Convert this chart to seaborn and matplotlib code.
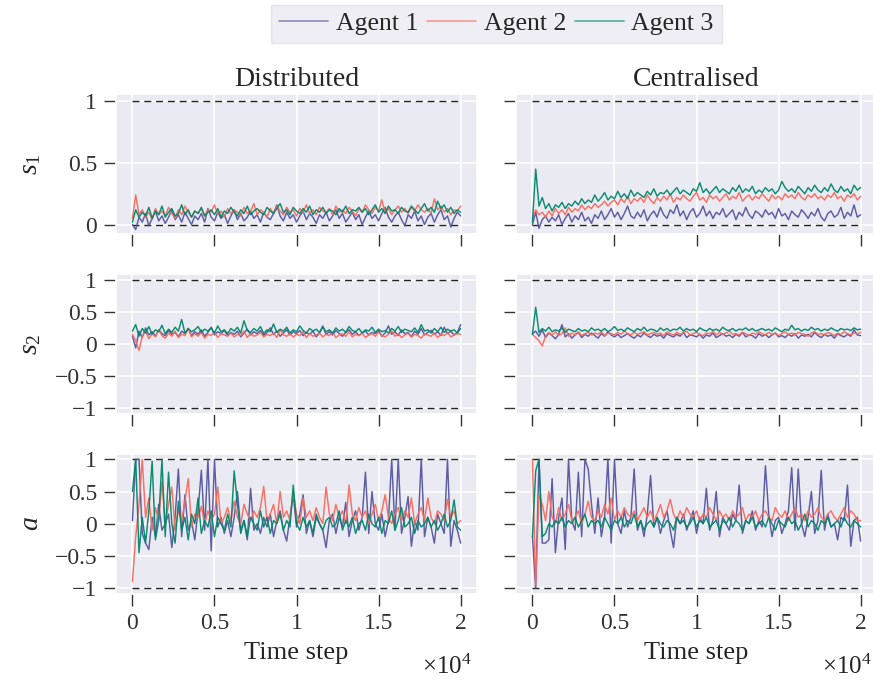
import numpy as np
import pandas as pd
import matplotlib
matplotlib.use("Agg")
import matplotlib.pyplot as plt
import seaborn as sns
from matplotlib.lines import Line2D
from matplotlib.ticker import FuncFormatter

# ---------------- data ----------------
agents = ["Agent 1", "Agent 2", "Agent 3"]
colors = ["#55559f", "#fa6a5c", "#00876a"]
columns = ["Distributed", "Centralised"]
row_labels = [r"$s_1$", r"$s_2$", r"$a$"]
time_steps = np.arange(0, 20001, 200)
bounds = [[0, 1], [-1, 1], [-1, 1]]
row_yticks = [[0, 0.5, 1], [-1, -0.5, 0, 0.5, 1], [-1, -0.5, 0, 0.5, 1]]
row_ylims = [(-0.08, 1.06), (-1.09, 1.09), (-1.09, 1.09)]
xticks = [0, 5000, 10000, 15000, 20000]

s1_dist_a1 = [0.00,-0.04,0.06,0.02,0.09,-0.01,0.05,0.11,0.03,0.07,
              0.01,0.06,0.12,0.04,0.08,0.02,0.10,0.05,0.00,0.07,
              0.04,0.09,0.02,0.13,0.06,0.03,0.10,0.05,0.08,0.01,
              0.07,0.12,0.04,0.09,0.03,0.06,0.11,0.05,0.08,0.02,
              0.10,0.06,0.04,0.09,0.16,0.07,0.03,0.10,0.05,0.08,
              0.02,0.07,0.11,0.04,0.09,0.06,0.01,0.08,0.05,0.10,
              0.03,0.07,0.12,0.05,0.09,0.02,0.06,0.10,0.04,0.08,
              0.00,0.06,0.11,0.05,0.08,0.03,0.09,0.14,0.06,0.02,
              0.07,0.10,0.04,-0.01,0.08,0.05,0.11,0.03,0.07,0.00,
              0.06,0.09,0.02,0.08,0.12,0.04,0.07,-0.02,0.05,0.10,
              0.07]
s1_dist_a2 = [0.05,0.24,0.08,0.12,0.06,0.10,0.04,0.13,0.08,0.11,
              0.07,0.14,0.09,0.05,0.12,0.08,0.15,0.10,0.06,0.11,
              0.09,0.13,0.07,0.12,0.10,0.16,0.08,0.11,0.06,0.13,
              0.09,0.12,0.10,0.07,0.14,0.09,0.11,0.17,0.08,0.12,
              0.10,0.06,0.13,0.09,0.15,0.11,0.08,0.14,0.10,0.12,
              0.07,0.13,0.10,0.16,0.09,0.12,0.08,0.14,0.11,0.10,
              0.13,0.08,0.15,0.10,0.12,0.09,0.14,0.11,0.07,0.13,
              0.10,0.16,0.12,0.09,0.14,0.11,0.20,0.10,0.13,0.08,
              0.12,0.15,0.10,0.13,0.09,0.14,0.11,0.16,0.12,0.10,
              0.13,0.09,0.21,0.12,0.15,0.10,0.13,0.08,0.12,0.11,
              0.15]
s1_dist_a3 = [0.02,0.12,0.06,0.10,0.07,0.14,0.05,0.11,0.08,0.15,
              0.06,0.10,0.13,0.07,0.09,0.16,0.08,0.12,0.06,0.11,
              0.09,0.14,0.07,0.10,0.12,0.08,0.13,0.06,0.11,0.09,
              0.14,0.10,0.07,0.12,0.09,0.15,0.08,0.11,0.13,0.10,
              0.08,0.14,0.11,0.09,0.13,0.17,0.10,0.12,0.08,0.14,
              0.11,0.09,0.13,0.10,0.15,0.08,0.12,0.10,0.14,0.09,
              0.12,0.11,0.08,0.13,0.10,0.15,0.09,0.12,0.11,0.14,
              0.10,0.13,0.08,0.12,0.16,0.10,0.13,0.09,0.15,0.11,
              0.12,0.09,0.14,0.11,0.10,0.15,0.12,0.09,0.13,0.17,
              0.11,0.14,0.10,0.19,0.13,0.16,0.10,0.14,0.09,0.12,
              0.10]

s1_cent_a1 = [0.00,0.10,-0.03,0.04,0.07,0.02,0.06,0.03,0.08,0.00,
              0.05,0.09,0.02,0.07,0.04,0.10,0.03,0.06,0.01,0.08,
              0.05,0.11,0.04,0.08,0.13,0.06,0.10,0.04,0.09,0.15,
              0.07,0.05,0.10,0.06,0.12,0.03,0.08,0.11,0.06,0.14,
              0.08,0.05,0.12,0.09,0.16,0.07,0.11,0.04,0.10,0.13,
              0.06,0.09,0.15,0.07,0.11,0.05,0.10,0.08,0.13,0.06,
              0.09,0.12,0.04,0.10,0.07,0.14,0.08,0.05,0.11,0.09,
              0.06,0.12,0.08,0.10,0.05,0.13,0.07,0.09,0.04,0.11,
              0.08,0.06,0.12,0.09,0.05,0.10,0.07,0.13,0.06,0.03,
              0.09,0.11,0.06,0.08,0.14,0.05,0.10,0.07,0.16,0.06,
              0.08]
s1_cent_a2 = [0.05,0.12,0.08,0.10,0.06,0.11,0.07,0.13,0.09,0.12,
              0.08,0.14,0.10,0.13,0.11,0.16,0.12,0.15,0.13,0.17,
              0.14,0.16,0.19,0.15,0.18,0.20,0.16,0.21,0.18,0.23,
              0.17,0.21,0.19,0.22,0.18,0.24,0.20,0.17,0.22,0.19,
              0.23,0.20,0.25,0.18,0.22,0.20,0.24,0.21,0.19,0.23,
              0.26,0.20,0.22,0.18,0.24,0.21,0.23,0.19,0.22,0.25,
              0.20,0.23,0.21,0.26,0.19,0.22,0.24,0.20,0.23,0.21,
              0.25,0.22,0.19,0.24,0.21,0.23,0.20,0.25,0.22,0.24,
              0.21,0.26,0.22,0.20,0.24,0.22,0.25,0.21,0.23,0.20,
              0.24,0.22,0.26,0.21,0.23,0.19,0.24,0.22,0.25,0.20,
              0.23]
s1_cent_a3 = [0.02,0.45,0.15,0.22,0.13,0.17,0.11,0.16,0.14,0.18,
              0.13,0.17,0.15,0.19,0.16,0.21,0.17,0.20,0.18,0.24,
              0.19,0.22,0.26,0.20,0.23,0.21,0.27,0.22,0.25,0.21,
              0.28,0.23,0.26,0.24,0.22,0.27,0.24,0.29,0.23,0.26,
              0.25,0.28,0.24,0.27,0.30,0.25,0.28,0.26,0.24,0.29,
              0.27,0.34,0.26,0.29,0.25,0.28,0.31,0.26,0.29,0.27,
              0.25,0.30,0.27,0.32,0.26,0.29,0.27,0.31,0.25,0.28,
              0.26,0.30,0.27,0.29,0.25,0.28,0.35,0.30,0.27,0.29,
              0.26,0.31,0.28,0.25,0.30,0.27,0.32,0.28,0.26,0.30,
              0.27,0.33,0.28,0.26,0.31,0.27,0.29,0.25,0.32,0.28,
              0.30]

s2_dist_a1 = [0.12,-0.06,0.20,0.10,0.25,0.14,0.19,0.12,0.22,0.16,
              0.13,0.21,0.15,0.18,0.11,0.20,0.16,0.24,0.13,0.19,
              0.15,0.22,0.12,0.18,0.26,0.14,0.19,0.16,0.21,0.13,
              0.18,0.15,0.20,0.11,0.17,0.23,0.14,0.19,0.16,0.21,
              0.13,0.18,0.25,0.15,0.20,0.12,0.17,0.22,0.14,0.19,
              0.16,0.21,0.13,0.18,0.15,0.20,0.11,0.17,0.28,0.15,
              0.19,0.14,0.21,0.16,0.12,0.18,0.22,0.15,0.19,0.13,
              0.17,0.20,0.14,0.18,0.16,0.21,0.12,0.17,0.28,0.15,
              0.19,0.13,0.22,0.16,0.18,0.11,0.20,0.15,0.24,0.14,
              0.18,0.21,0.15,0.19,0.13,0.26,0.16,0.20,0.14,0.18,
              0.30]
s2_dist_a2 = [0.15,0.05,-0.10,0.12,0.20,0.08,0.16,0.11,0.22,0.13,
              0.09,0.17,0.12,0.20,0.10,0.15,0.13,0.24,0.11,0.16,
              0.12,0.18,0.09,0.15,0.13,0.19,0.10,0.16,0.14,0.12,
              0.17,0.11,0.15,0.13,0.20,0.10,0.16,0.12,0.14,0.18,
              0.11,0.15,0.13,0.17,0.10,0.22,0.14,0.12,0.16,0.11,
              0.15,0.13,0.19,0.10,0.16,0.12,0.14,0.17,0.11,0.15,
              0.13,0.18,0.10,0.14,0.16,0.12,0.19,0.11,0.15,0.13,
              0.17,0.10,0.14,0.16,0.12,0.18,0.13,0.11,0.15,0.20,
              0.12,0.16,0.10,0.14,0.17,0.11,0.15,0.13,0.09,0.16,
              0.14,0.12,0.17,0.10,0.15,0.13,0.18,0.11,0.14,0.16,
              0.15]
s2_dist_a3 = [0.20,0.30,0.12,0.24,0.17,0.27,0.15,0.22,0.19,0.29,
              0.16,0.23,0.18,0.26,0.20,0.38,0.17,0.24,0.19,0.22,
              0.27,0.18,0.23,0.20,0.25,0.17,0.28,0.19,0.22,0.16,
              0.24,0.20,0.26,0.17,0.36,0.21,0.18,0.24,0.20,0.27,
              0.16,0.22,0.19,0.31,0.18,0.23,0.20,0.26,0.17,0.22,
              0.19,0.28,0.21,0.17,0.24,0.20,0.23,0.18,0.26,0.19,
              0.22,0.17,0.25,0.20,0.23,0.18,0.27,0.21,0.19,0.24,
              0.17,0.22,0.20,0.26,0.18,0.23,0.19,0.21,0.17,0.24,
              0.20,0.27,0.18,0.23,0.21,0.19,0.25,0.18,0.30,0.20,
              0.22,0.17,0.24,0.19,0.26,0.18,0.23,0.20,0.22,0.17,
              0.24]

s2_cent_a1 = [0.16,0.20,0.12,0.22,0.10,0.17,0.13,0.08,0.15,0.30,
              0.11,0.16,0.09,0.14,0.18,0.10,0.15,0.12,0.17,0.13,
              0.09,0.16,0.12,0.19,0.14,0.11,0.15,0.10,0.13,0.16,
              0.12,0.09,0.14,0.11,0.17,0.13,0.10,0.15,0.12,0.14,
              0.09,0.16,0.13,0.11,0.15,0.12,0.18,0.10,0.14,0.13,
              0.11,0.15,0.09,0.14,0.12,0.17,0.10,0.13,0.16,0.12,
              0.14,0.10,0.15,0.12,0.18,0.11,0.14,0.13,0.09,0.16,
              0.12,0.15,0.10,0.14,0.17,0.11,0.13,0.10,0.15,0.12,
              0.16,0.09,0.14,0.12,0.15,0.11,0.18,0.13,0.10,0.15,
              0.12,0.14,0.09,0.16,0.13,0.11,0.15,0.12,0.22,0.14,
              0.13]
s2_cent_a2 = [0.15,0.10,0.05,-0.03,0.12,0.18,0.14,0.19,0.13,0.16,
              0.25,0.12,0.17,0.14,0.19,0.13,0.16,0.18,0.14,0.17,
              0.15,0.19,0.13,0.17,0.16,0.14,0.18,0.15,0.20,0.16,
              0.14,0.18,0.15,0.17,0.19,0.14,0.16,0.18,0.15,0.17,
              0.13,0.19,0.16,0.14,0.18,0.15,0.17,0.20,0.14,0.16,
              0.18,0.15,0.13,0.17,0.16,0.19,0.14,0.18,0.15,0.17,
              0.20,0.15,0.16,0.14,0.18,0.16,0.13,0.17,0.15,0.19,
              0.16,0.14,0.18,0.15,0.17,0.13,0.16,0.19,0.15,0.17,
              0.14,0.18,0.16,0.15,0.12,0.17,0.19,0.15,0.16,0.14,
              0.18,0.16,0.13,0.17,0.15,0.19,0.16,0.14,0.17,0.16,
              0.18]
s2_cent_a3 = [0.15,0.57,0.18,0.24,0.20,0.26,0.19,0.22,0.20,0.25,
              0.18,0.23,0.21,0.19,0.24,0.20,0.22,0.19,0.25,0.21,
              0.23,0.20,0.24,0.19,0.22,0.27,0.21,0.23,0.20,0.25,
              0.22,0.19,0.24,0.21,0.26,0.20,0.23,0.22,0.19,0.25,
              0.21,0.24,0.20,0.23,0.22,0.26,0.20,0.24,0.21,0.23,
              0.19,0.25,0.22,0.20,0.24,0.21,0.23,0.20,0.26,0.22,
              0.21,0.24,0.20,0.23,0.22,0.25,0.21,0.24,0.20,0.22,
              0.24,0.21,0.23,0.20,0.25,0.22,0.19,0.23,0.21,0.29,
              0.22,0.24,0.20,0.23,0.21,0.26,0.22,0.24,0.20,0.23,
              0.21,0.25,0.22,0.20,0.24,0.22,0.23,0.21,0.25,0.22,
              0.23]

a_dist_a1 = [0.05,1.00,1.00,-0.15,-0.30,-0.40,0.10,-0.20,0.30,-0.10,
             0.00,0.15,-0.37,0.10,0.85,-0.20,0.45,-0.10,0.05,-0.25,
             0.20,0.83,-0.10,1.00,-0.42,1.00,-0.05,0.10,-0.15,0.05,
             -0.20,0.10,0.50,-0.10,0.05,-0.25,0.55,-0.10,0.00,-0.15,
             0.10,-0.05,0.15,-0.20,0.05,0.20,-0.10,-0.27,0.10,0.45,
             -0.05,0.15,0.45,-0.15,0.05,-0.20,0.10,0.00,-0.10,-0.37,
             0.05,0.15,-0.15,0.10,-0.05,0.33,-0.20,0.05,0.20,-0.10,
             0.10,0.80,-0.15,0.50,0.00,-0.10,0.15,-0.20,0.05,1.00,
             -0.10,1.00,-0.15,0.10,0.42,-0.35,0.05,-0.10,1.00,-0.20,
             0.10,-0.05,-0.30,0.15,0.00,-0.15,1.00,-0.35,0.05,-0.10,
             -0.30]
a_dist_a2 = [-0.90,-0.20,0.30,1.00,0.10,0.40,-0.10,0.25,0.05,0.65,
             0.00,0.30,0.57,-0.10,0.20,0.05,0.35,0.70,-0.05,0.15,
             0.10,0.27,0.00,0.20,0.05,0.15,0.57,0.00,0.10,0.25,
             0.05,0.35,0.10,0.00,0.30,0.15,0.05,0.20,0.10,0.25,
             0.58,0.05,0.15,0.30,0.00,0.50,0.10,0.20,0.05,0.50,
             0.15,0.00,0.40,0.10,0.20,0.05,0.25,0.10,0.00,0.57,
             0.15,0.05,0.30,0.10,0.20,0.00,0.60,0.15,0.05,0.25,
             0.10,0.20,0.00,0.15,0.30,0.05,0.20,0.45,0.10,0.00,
             0.15,0.25,0.05,0.20,0.10,0.40,0.00,0.15,0.25,0.05,
             0.40,0.10,0.00,0.20,0.15,0.05,0.38,0.10,0.20,0.00,
             0.05]
a_dist_a3 = [0.50,1.00,-0.45,0.10,-0.30,0.20,0.97,-0.25,0.05,1.00,
             -0.20,0.80,0.00,-0.30,0.35,-0.10,0.10,-0.25,0.15,0.00,
             0.40,-0.15,0.05,-0.05,0.20,-0.20,0.10,0.00,-0.10,0.15,
             -0.05,0.82,0.30,-0.15,0.05,-0.20,0.10,0.00,-0.10,0.20,
             -0.05,0.10,-0.15,0.05,0.00,0.15,-0.10,0.05,-0.05,0.60,
             0.00,-0.10,0.10,-0.05,0.05,-0.15,0.15,0.00,-0.10,0.05,
             0.10,-0.05,0.00,0.20,-0.10,0.05,-0.05,0.10,-0.15,0.00,
             0.05,-0.10,0.15,0.00,-0.05,0.10,-0.15,0.05,0.00,0.20,
             -0.10,0.05,0.25,-0.05,0.00,0.10,-0.15,0.05,-0.05,0.00,
             0.10,-0.05,0.05,-0.10,0.00,0.15,-0.05,0.05,0.37,-0.05,
             -0.10]

a_cent_a1 = [-0.20,-1.00,1.00,-0.30,-0.30,-0.25,0.70,-0.45,0.10,0.40,
             -0.40,1.00,0.05,-0.10,0.80,-0.20,1.00,0.85,0.30,-0.15,
             0.40,-0.20,0.10,1.00,-0.30,1.00,0.00,-0.15,0.20,-0.05,
             0.10,0.85,-0.10,0.05,-0.20,0.15,0.75,-0.05,0.10,-0.15,
             0.05,0.20,-0.10,-0.37,0.10,0.00,0.15,-0.10,0.05,0.20,
             -0.15,0.10,0.00,0.55,-0.10,0.05,0.50,-0.20,0.10,0.00,
             -0.10,0.15,0.05,0.60,-0.15,0.05,0.00,0.20,-0.10,0.05,
             -0.05,0.90,0.15,-0.20,0.05,0.10,-0.15,0.00,0.20,0.87,
             -0.10,0.85,0.00,-0.20,0.10,0.50,-0.15,0.05,0.83,-0.10,
             0.15,-0.05,0.00,-0.25,0.10,0.05,0.60,-0.35,0.05,0.10,
             -0.27]
a_cent_a2 = [1.00,-0.95,0.45,0.30,0.05,0.50,0.10,0.00,0.25,0.05,
             0.15,0.30,0.05,0.10,0.20,0.00,0.15,0.35,0.10,0.05,
             0.20,0.10,0.30,0.15,0.40,0.05,0.20,0.10,0.25,0.15,
             0.10,0.20,0.05,0.15,0.25,0.10,0.20,0.05,0.15,0.30,
             0.10,0.20,0.38,0.15,0.05,0.20,0.10,0.25,0.15,0.10,
             0.20,0.05,0.15,0.10,0.25,0.15,0.05,0.20,0.10,0.15,
             0.05,0.20,0.10,0.15,0.25,0.05,0.15,0.10,0.20,0.05,
             0.15,0.20,0.10,0.05,0.25,0.15,0.10,0.20,0.05,0.15,
             0.25,0.10,0.15,0.05,0.20,0.10,0.15,0.25,0.10,0.05,
             0.15,0.20,0.10,0.05,0.15,0.25,0.10,0.20,0.15,0.05,
             0.05]
a_cent_a3 = [-0.20,0.82,1.00,-0.20,-0.15,0.00,-0.05,0.05,0.00,0.10,
             -0.05,0.05,0.00,0.10,-0.05,0.05,0.15,-0.05,0.05,0.00,
             0.05,-0.05,0.10,0.00,-0.10,0.05,0.00,0.10,-0.05,0.05,
             0.00,0.15,-0.05,0.05,-0.10,0.00,0.05,-0.05,0.10,0.00,
             -0.05,0.05,0.00,-0.10,0.10,0.00,0.05,-0.05,0.00,0.10,
             -0.05,0.05,0.00,0.10,-0.05,0.00,0.05,-0.10,0.05,0.00,
             0.10,-0.05,0.05,0.00,-0.10,0.05,0.00,0.10,-0.05,0.00,
             0.05,-0.05,0.10,0.00,-0.10,0.05,0.00,-0.05,0.10,0.00,
             0.05,-0.10,0.00,0.15,-0.05,0.05,0.00,-0.10,0.05,0.00,
             0.10,-0.05,0.00,0.05,-0.05,0.10,0.00,-0.05,0.05,0.00,
             -0.05]

panels = [
    [[s1_dist_a1, s1_dist_a2, s1_dist_a3], [s1_cent_a1, s1_cent_a2, s1_cent_a3]],
    [[s2_dist_a1, s2_dist_a2, s2_dist_a3], [s2_cent_a1, s2_cent_a2, s2_cent_a3]],
    [[a_dist_a1, a_dist_a2, a_dist_a3], [a_cent_a1, a_cent_a2, a_cent_a3]],
]

# ---------------- style ----------------
sns.set_theme(style="darkgrid", rc={
    "xtick.bottom": True, "ytick.left": True,
    "xtick.major.size": 8.5, "ytick.major.size": 8.5,
    "xtick.major.width": 1.0, "ytick.major.width": 1.0,
    "xtick.color": "#333333", "ytick.color": "#333333",
    "xtick.major.pad": 5, "ytick.major.pad": 5,
    "grid.linewidth": 1.1,
})
plt.rcParams["font.family"] = ["Liberation Serif", "DejaVu Serif"]
plt.rcParams["mathtext.fontset"] = "custom"
plt.rcParams["mathtext.rm"] = "Liberation Serif"
plt.rcParams["mathtext.it"] = "Liberation Serif:italic"
plt.rcParams["axes.unicode_minus"] = True

TICK_FS = 17
fig, axes = plt.subplots(
    3, 2, figsize=(8.73, 6.81), dpi=100, sharex=True, sharey="row",
    gridspec_kw=dict(left=0.1329, right=1.0046, top=0.862, bottom=0.1278,
                     wspace=0.108, hspace=0.28))

def fmt(v, _pos):
    s = "%g" % v
    return s.replace("-", "\u2212")

palette = dict(zip(agents, colors))
for r in range(3):
    for c in range(2):
        ax = axes[r, c]
        series = panels[r][c]
        df = pd.concat([
            pd.DataFrame({"t": time_steps, "value": vals, "agent": name})
            for name, vals in zip(agents, series)
        ], ignore_index=True)
        sns.lineplot(data=df, x="t", y="value", hue="agent", palette=palette,
                     ax=ax, legend=False, linewidth=1.05, alpha=0.95,
                     errorbar=None, estimator=None)
        ax.hlines(bounds[r], time_steps[0], time_steps[-1], colors="#222222",
                  linestyles=(0, (5, 3.5)), linewidth=1.0, zorder=1.5)
        ax.set_ylim(*row_ylims[r])
        ax.set_xlim(-1000, 21000)
        ax.set_yticks(row_yticks[r])
        ax.set_xticks(xticks)
        ax.yaxis.set_major_formatter(FuncFormatter(fmt))
        ax.xaxis.set_major_formatter(FuncFormatter(lambda v, p: fmt(v / 1e4, p)))
        ax.tick_params(labelsize=TICK_FS)
        ax.set_xlabel("")
        ax.set_ylabel("")
        if c == 0:
            ax.set_ylabel(row_labels[r], fontsize=20, labelpad=8)
        if r == 0:
            ax.set_title(columns[c], fontsize=20, pad=6)
        if r == 2:
            ax.set_xlabel("Time step", fontsize=19, labelpad=6)
            ax.text(0.985, -0.43, r"$\times10^4$", transform=ax.transAxes,
                    ha="right", va="top", fontsize=18)

fig.align_ylabels(axes[:, 0])

handles = [Line2D([], [], color=col, lw=1.3, alpha=0.6) for col in colors]
leg = fig.legend(handles, agents, loc="upper center", ncol=3,
                 bbox_to_anchor=(0.5 * (0.1329 + 1.0046), 0.993),
                 fontsize=18.5, frameon=True, fancybox=False,
                 handlelength=1.9, handletextpad=0.3, columnspacing=0.35,
                 borderpad=0.3, borderaxespad=0.0)
leg.get_frame().set_facecolor("#eaeaf2")
leg.get_frame().set_edgecolor("#e0e0e8")

fig.savefig("out.png", dpi=100)
